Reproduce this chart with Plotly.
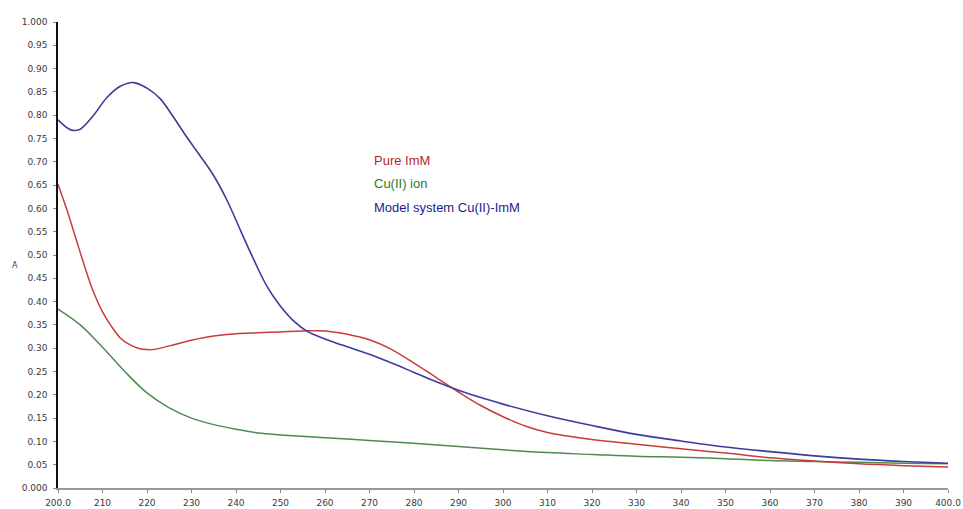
import plotly.graph_objects as go

# Wavelength (nm) and absorbance values
wl_model = [200, 203, 205, 208, 211, 214, 217, 220, 223, 226, 229, 232, 235, 238, 241, 244, 247, 250, 253, 256,
            260, 265, 270, 275, 280, 285, 290, 295, 300, 310, 320, 330, 340, 350, 360, 370, 380, 390, 400]
abs_model = [0.790, 0.768, 0.770, 0.800, 0.838, 0.862, 0.870, 0.858, 0.835, 0.795, 0.752, 0.712, 0.670, 0.617,
             0.553, 0.490, 0.432, 0.390, 0.358, 0.336, 0.320, 0.303, 0.287, 0.268, 0.248, 0.228, 0.210, 0.194,
             0.180, 0.155, 0.134, 0.115, 0.101, 0.088, 0.078, 0.069, 0.062, 0.057, 0.053]

wl_imm = [200, 202, 204, 206, 208, 210, 212, 214, 216, 218, 220, 222, 225, 230, 235, 240, 245, 250, 255, 260,
          265, 270, 275, 280, 285, 290, 295, 300, 305, 310, 320, 330, 340, 350, 360, 370, 380, 390, 400]
abs_imm = [0.652, 0.597, 0.536, 0.475, 0.420, 0.378, 0.347, 0.322, 0.308, 0.300, 0.297, 0.298, 0.305, 0.317,
           0.326, 0.331, 0.333, 0.335, 0.337, 0.337, 0.330, 0.318, 0.297, 0.268, 0.237, 0.206, 0.177, 0.153,
           0.133, 0.119, 0.104, 0.094, 0.084, 0.075, 0.065, 0.058, 0.052, 0.048, 0.045]

wl_cu = [200, 205, 210, 215, 220, 225, 230, 235, 240, 245, 250, 260, 270, 280, 290, 300, 310, 320, 330, 340,
         350, 360, 370, 380, 390, 400]
abs_cu = [0.384, 0.350, 0.302, 0.250, 0.204, 0.172, 0.150, 0.136, 0.126, 0.118, 0.114, 0.108, 0.102, 0.096,
          0.089, 0.082, 0.076, 0.072, 0.068, 0.066, 0.063, 0.059, 0.057, 0.055, 0.053, 0.052]

x_ticks = [200, 210, 220, 230, 240, 250, 260, 270, 280, 290, 300, 310, 320, 330, 340, 350, 360, 370, 380, 390, 400]
x_ticktext = ["200.0"] + [str(v) for v in x_ticks[1:-1]] + ["400.0"]
y_ticks = [i * 0.05 for i in range(21)]
y_ticktext = ["0.000"] + ["%.2f" % v for v in y_ticks[1:-1]] + ["1.000"]

legend_labels = ["Pure ImM", "Cu(II) ion", "Model system Cu(II)-ImM"]
legend_colors = ["#b02a2a", "#2f7a2f", "#1c1c8a"]

L, R, T, B = 58, 15, 22, 21
W, H = 963, 509
pw, ph = W - L - R, H - T - B

fig = go.Figure()
fig.add_trace(go.Scatter(x=wl_cu, y=abs_cu, mode="lines", line=dict(color="#4f8a4f", width=1.5, shape="spline"),
                         name="Cu(II) ion"))
fig.add_trace(go.Scatter(x=wl_imm, y=abs_imm, mode="lines", line=dict(color="#c83c3c", width=1.5, shape="spline"),
                         name="Pure ImM"))
fig.add_trace(go.Scatter(x=wl_model, y=abs_model, mode="lines", line=dict(color="#3c3c9c", width=1.6, shape="spline"),
                         name="Model system Cu(II)-ImM"))

for i, (lab, col) in enumerate(zip(legend_labels, legend_colors)):
    fig.add_annotation(x=(372 - L) / pw, y=(H - B - (160 + i * 23.5)) / ph, xref="paper", yref="paper",
                       text=lab, showarrow=False, xanchor="left", yanchor="middle",
                       font=dict(family="Liberation Sans, Arial", size=13, color=col))

fig.add_annotation(x=(15 - L) / pw, y=(H - B - 265) / ph, xref="paper", yref="paper", text="A",
                   showarrow=False, xanchor="center", yanchor="middle",
                   font=dict(family="DejaVu Sans", size=8, color="#444444"))

tickfont = dict(family="DejaVu Sans", size=9, color="#3a3a3a")
fig.update_layout(
    width=W, height=H,
    margin=dict(l=L, r=R, t=T, b=B),
    paper_bgcolor="white", plot_bgcolor="white",
    showlegend=False,
    font=dict(family="DejaVu Sans", size=9, color="#3a3a3a"),
    xaxis=dict(range=[200, 400], tickvals=x_ticks, ticktext=x_ticktext, showgrid=False, zeroline=False,
               showline=True, linecolor="#999999", linewidth=2, ticks="outside", ticklen=3,
               tickcolor="#888888", tickfont=tickfont, automargin=False, ticklabelstandoff=2),
    yaxis=dict(range=[0, 1], tickvals=y_ticks, ticktext=y_ticktext, showgrid=False, zeroline=False,
               showline=True, linecolor="#111111", linewidth=1.5, ticks="outside", ticklen=3,
               tickcolor="#888888", tickfont=tickfont, automargin=False, ticklabelstandoff=4),
)

fig.write_html("out.html", config={"displayModeBar": False})

# remove the default page margin so the figure sits at the window origin
with open("out.html", "r", encoding="utf-8") as f:
    html = f.read()
html = html.replace("<body>", '<body style="margin:0;padding:0;overflow:hidden">', 1)
with open("out.html", "w", encoding="utf-8") as f:
    f.write(html)
